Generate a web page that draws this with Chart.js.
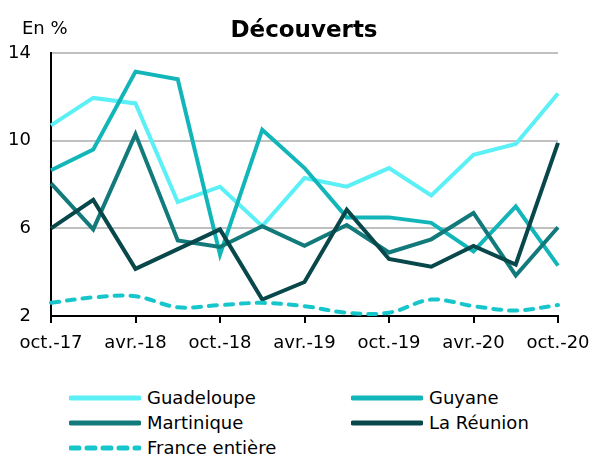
<!DOCTYPE html>
<html>
<head>
<meta charset="utf-8">
<script src="https://cdn.jsdelivr.net/npm/chart.js@4/dist/chart.umd.min.js"></script>
<style>
  body { margin: 0; background: #fff; font-family: "DejaVu Sans", sans-serif; }
  #wrap { position: relative; width: 593px; height: 455px; }
  #chart { position: absolute; left: 0; top: 0; }
  #legend { position: absolute; left: 0; top: 385px; width: 593px; }
  .item { position: absolute; height: 25px; display: flex; align-items: center; font-size: 18px; color: #000; white-space: nowrap; }
  .item svg { margin-right: 6px; }
</style>
</head>
<body>
<div id="wrap">
  <canvas id="chart" width="593" height="375"></canvas>
  <div id="legend"></div>
</div>
<script>
// quarters, oct. 2017 -> oct. 2020
const quarters = ['oct.-17', 'janv.-18', 'avr.-18', 'juil.-18', 'oct.-18', 'janv.-19', 'avr.-19',
                  'juil.-19', 'oct.-19', 'janv.-20', 'avr.-20', 'juil.-20', 'oct.-20']

const guadeloupe = [10.7, 11.95, 11.7, 7.2, 7.9, 6.1, 8.3, 7.9, 8.75, 7.5, 9.35, 9.85, 12.15]
const guyane     = [8.65, 9.6, 13.15, 12.8, 4.8, 10.5, 8.75, 6.5, 6.5, 6.25, 4.95, 7.0, 4.3]
const martinique = [8.05, 5.95, 10.3, 5.45, 5.15, 6.1, 5.2, 6.15, 4.9, 5.5, 6.7, 3.85, 6.05]
const reunion    = [6.0, 7.3, 4.15, 5.05, 5.95, 2.75, 3.55, 6.85, 4.6, 4.25, 5.2, 4.35, 9.9]
const france     = [2.6, 2.85, 2.9, 2.4, 2.5, 2.6, 2.45, 2.15, 2.15, 2.75, 2.45, 2.25, 2.5]

const yTicks = [2, 6, 10, 14]

const series = [
    {label: 'Guadeloupe', data: guadeloupe, color: '#5BF0F6', dash: []},
    {label: 'Guyane', data: guyane, color: '#12B6B9', dash: []},
    {label: 'Martinique', data: martinique, color: '#137A7B', dash: []},
    {label: 'La Réunion', data: reunion, color: '#08474A', dash: []},
    {label: 'France entière', data: france, color: '#17C6CB', dash: [8, 8]},
]

// title + unit drawn above the plot
const headerPlugin = {
    id: 'header',
    afterDraw(chart) {
        const ctx = chart.ctx
        ctx.save()
        ctx.fillStyle = '#000'
        ctx.textBaseline = 'alphabetic'
        ctx.font = '18px "DejaVu Sans"'
        ctx.textAlign = 'left'
        ctx.fillText('En %', 22, 34)
        ctx.font = 'bold 23px "DejaVu Sans"'
        ctx.textAlign = 'center'
        ctx.fillText('Découverts', 304, 37)
        ctx.restore()
    }
}

const canvas = document.getElementById('chart')
const myChart = new Chart(canvas, {
    type: 'line',
    data: {
        labels: quarters,
        datasets: series.map((s, i) => ({
            label: s.label,
            data: s.data,
            borderColor: s.color,
            backgroundColor: s.color,
            borderWidth: 4,
            borderDash: s.dash,
            borderCapStyle: s.dash.length ? 'round' : 'butt',
            pointRadius: 0,
            tension: s.dash.length ? 0.35 : 0,
            order: series.length - i // last series drawn on top
        }))
    },
    options: {
        responsive: false,
        animation: false,
        layout: { padding: { top: 53, right: 35, left: 0, bottom: 0 } },
        plugins: { legend: { display: false }, tooltip: { enabled: false } },
        scales: {
            x: {
                offset: false,
                afterFit: (scale) => {
                    scale.height = 59
                    scale.paddingLeft = 0  // labels may overhang, keep plot width fixed
                    scale.paddingRight = 0
                },
                border: { color: '#000', width: 2 },
                grid: {
                    drawOnChartArea: false,
                    drawTicks: true,
                    tickLength: 7,
                    color: '#000',
                    lineWidth: 2
                },
                ticks: {
                    autoSkip: false,
                    maxRotation: 0,
                    color: '#000',
                    padding: 10,
                    font: { family: 'DejaVu Sans', size: 18 },
                    callback: (v, i) => (i % 2 === 0 ? quarters[i] : null)
                }
            },
            y: {
                min: 2,
                max: 14,
                afterFit: (scale) => { scale.width = 51 },
                afterBuildTicks: (scale) => { scale.ticks = yTicks.map(v => ({value: v})) },
                border: { color: '#000', width: 2 },
                grid: {
                    drawTicks: false,
                    color: (c) => (c.tick && c.tick.value === 2 ? 'rgba(0,0,0,0)' : '#C0C0C0'),
                    lineWidth: 2
                },
                ticks: {
                    color: '#000',
                    padding: 20,
                    font: { family: 'DejaVu Sans', size: 18 }
                }
            }
        }
    },
    plugins: [headerPlugin]
})

// legend in two columns, built from the datasets
const legend = document.getElementById('legend')
const cols = [69, 351]
myChart.data.datasets.forEach((ds, i) => {
    const item = document.createElement('div')
    item.className = 'item'
    item.style.left = cols[i % 2] + 'px'
    item.style.top = (Math.floor(i / 2) * 25) + 'px'
    const dash = ds.borderDash.length ? 'stroke-dasharray="8 8"' : ''
    item.innerHTML = `<svg width="72" height="10"><line x1="2" y1="5" x2="70" y2="5" stroke="${ds.borderColor}" stroke-width="5" stroke-linecap="round" ${dash}/></svg>`
    const span = document.createElement('span')
    span.textContent = ds.label
    item.appendChild(span)
    legend.appendChild(item)
})
</script>
</body>
</html>
